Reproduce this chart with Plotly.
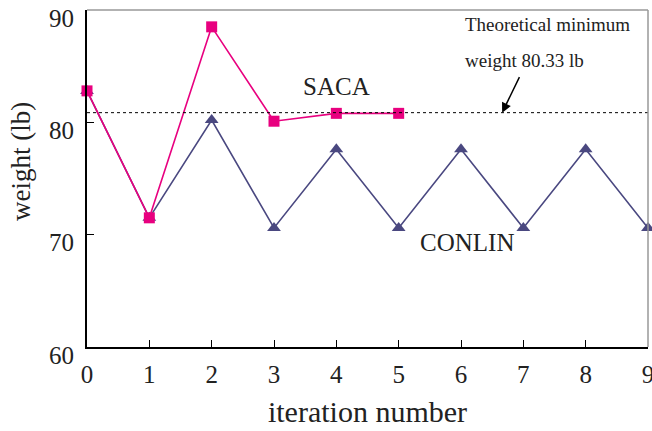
import plotly.graph_objects as go

iterations_saca = [0, 1, 2, 3, 4, 5]
weight_saca = [82.8, 71.5, 88.5, 80.1, 80.8, 80.8]
iterations_conlin = [0, 1, 2, 3, 4, 5, 6, 7, 8, 9]
weight_conlin = [82.8, 71.5, 80.2, 70.6, 77.6, 70.6, 77.6, 70.6, 77.6, 70.6]
theoretical_line = 80.86
x_ticks = [0, 1, 2, 3, 4, 5, 6, 7, 8, 9]
y_ticks = [60, 70, 80, 90]
y_tick_labels = ["60", "70", "80", "90"]

PINK = "#E8007F"
SLATE = "#4A4880"
FONT = "Liberation Serif"

fig = go.Figure()
fig.add_trace(go.Scatter(
    x=iterations_conlin, y=weight_conlin, mode="lines+markers",
    line=dict(color=SLATE, width=1.6),
    marker=dict(symbol="triangle-up", size=12, color=SLATE),
    cliponaxis=False, showlegend=False))
fig.add_trace(go.Scatter(
    x=iterations_saca, y=weight_saca, mode="lines+markers",
    line=dict(color=PINK, width=1.6),
    marker=dict(symbol="square", size=11, color=PINK),
    cliponaxis=False, showlegend=False))

fig.add_shape(type="line", xref="x", yref="y", x0=0, x1=9,
              y0=theoretical_line, y1=theoretical_line,
              line=dict(color="black", width=1, dash="dot"))
# grey top/right frame
fig.add_shape(type="line", xref="paper", yref="paper", x0=0, x1=1, y0=1, y1=1,
              line=dict(color="#999999", width=1.5))
fig.add_shape(type="line", xref="paper", yref="paper", x0=1, x1=1, y0=0, y1=1,
              line=dict(color="#999999", width=1.5))

fig.add_annotation(x=4.0, y=83.2, text="SACA", showarrow=False, yanchor="middle",
                   font=dict(family=FONT, size=25, color="#222"))
fig.add_annotation(x=6.1, y=69.3, text="CONLIN", showarrow=False, yanchor="middle",
                   font=dict(family=FONT, size=25, color="#222"))
fig.add_annotation(xref="paper", yref="paper", x=(463-86.7)/561.3, y=(347-25)/337,
                   xanchor="left", yanchor="middle", text="Theoretical minimum", showarrow=False,
                   font=dict(family=FONT, size=19, color="#222"))
fig.add_annotation(xref="paper", yref="paper", x=(463-86.7)/561.3, y=(347-60)/337,
                   xanchor="left", yanchor="middle", text="weight 80.33 lb", showarrow=False,
                   font=dict(family=FONT, size=19, color="#222"))
fig.add_annotation(x=6.66, y=theoretical_line, ax=18, ay=-37, text="",
                   showarrow=True, arrowhead=2, arrowsize=1.3, arrowwidth=1.5,
                   arrowcolor="black", standoff=0)
# y-axis title
fig.add_annotation(xref="paper", yref="paper", x=(21-87)/561, y=(347-162)/337,
                   xanchor="center", yanchor="middle", textangle=-90,
                   text="weight (lb)", showarrow=False,
                   font=dict(family=FONT, size=27, color="#222"))
# y tick labels (sit slightly below their ticks, as in the original)
for v, lab in zip(y_ticks, y_tick_labels):
    fig.add_annotation(xref="paper", yref="y", x=0, y=v, text=lab, showarrow=False,
                       xanchor="right", yanchor="middle", xshift=-11, yshift=-8,
                       font=dict(family=FONT, size=25, color="#222"))

fig.update_xaxes(range=[0, 9], tickvals=x_ticks, ticks="inside", ticklen=7,
                 tickcolor="black", showline=True, linecolor="black", linewidth=1.5,
                 showgrid=False, zeroline=False, ticklabeloverflow="allow",
                 ticklabelstandoff=4, automargin=False,
                 tickfont=dict(family=FONT, size=25, color="#222"),
                 title=dict(text="iteration number", font=dict(family=FONT, size=30, color="#222"),
                            standoff=14))
fig.update_yaxes(range=[60, 90], tickvals=y_ticks, ticks="inside", ticklen=7,
                 tickcolor="black", showline=True, linecolor="black", linewidth=1.5,
                 showgrid=False, zeroline=False, showticklabels=False, automargin=False)

fig.update_layout(width=652, height=431, margin=dict(l=87, r=4, t=10, b=84),
                  plot_bgcolor="white", paper_bgcolor="white")
fig.write_html("out.html")
